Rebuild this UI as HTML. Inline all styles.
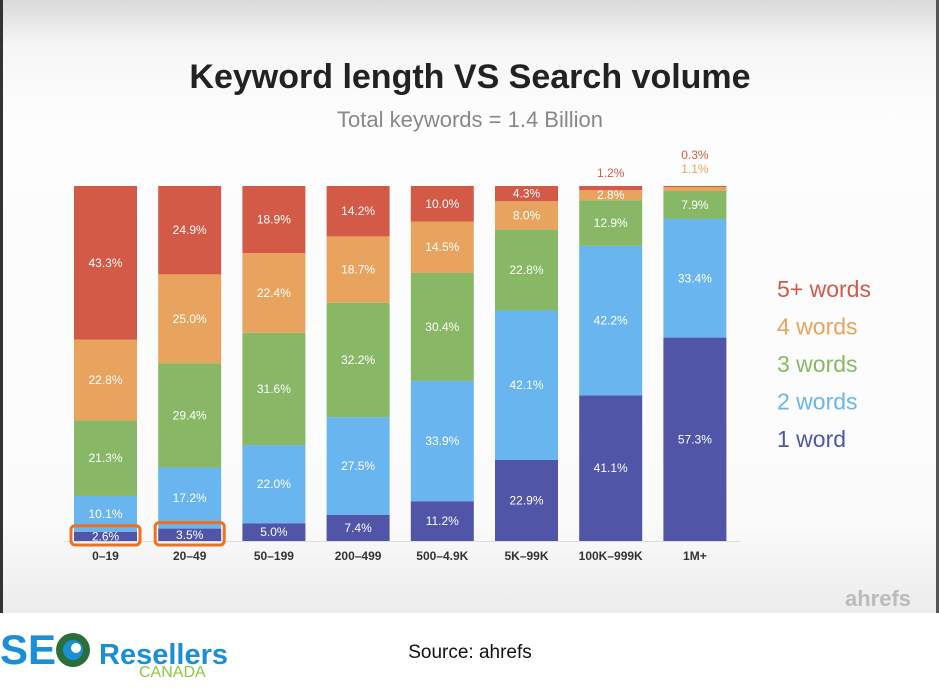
<!DOCTYPE html>
<html><head><meta charset="utf-8"><style>
body{margin:0;width:939px;height:700px;background:#fff;overflow:hidden;font-family:"Liberation Sans",sans-serif}
#panel{position:absolute;left:0;top:0;width:939px;height:613px;background:linear-gradient(#d9d9d9 0px,#f6f6f6 45px,#fdfdfd 120px,#fbfbfb 520px,#ececec 613px);border-left:3px solid #333;border-right:3px solid #555;box-sizing:border-box}
</style></head><body>
<div id="panel"></div>
<svg id="chart" width="939" height="700" style="position:absolute;left:0;top:0">
<text x="470" y="88" text-anchor="middle" font-size="34" font-weight="bold" fill="#222">Keyword length VS Search volume</text>
<text x="470" y="127" text-anchor="middle" font-size="22" fill="#888">Total keywords = 1.4 Billion</text>
<text x="878" y="606" text-anchor="middle" font-size="22" font-weight="bold" fill="#bbb">ahrefs</text>
<text x="470" y="658" text-anchor="middle" font-size="19" fill="#111">Source: ahrefs</text>
<g>
<text x="0" y="664" font-size="42" font-weight="bold" fill="#1a8fd6">SE</text>
<circle cx="73" cy="650" r="17" fill="#2a6e3a"/><circle cx="73" cy="650" r="10" fill="#1a8fd6"/><circle cx="76" cy="648" r="5" fill="#fff"/>
<text x="99" y="664" font-size="29" font-weight="bold" fill="#1a8fd6">Resellers</text>
<text x="139" y="677" font-size="16" fill="#8cc63f">CANADA</text>
</g>
<g id="bars"></g>
</svg>
<script>
const categories=["0–19","20–49","50–199","200–499","500–4.9K","5K–99K","100K–999K","1M+"];
const oneWord=[2.6,3.5,5.0,7.4,11.2,22.9,41.1,57.3];
const twoWords=[10.1,17.2,22.0,27.5,33.9,42.1,42.2,33.4];
const threeWords=[21.3,29.4,31.6,32.2,30.4,22.8,12.9,7.9];
const fourWords=[22.8,25.0,22.4,18.7,14.5,8.0,2.8,1.1];
const fivePlus=[43.3,24.9,18.9,14.2,10.0,4.3,1.2,0.3];
const seriesNames=["1 word","2 words","3 words","4 words","5+ words"];
const series=[oneWord,twoWords,threeWords,fourWords,fivePlus];
const colors=["#5055a8","#69b5f0","#88b865","#e8a45e","#d35a47"];
const NS="http://www.w3.org/2000/svg";
const g=document.getElementById('bars');
const top0=186,bottom0=541,x0=74,step=84.2,bw=63;
function xs(i){return x0+i*step;}
function ys(v,total){return v/total*(bottom0-top0);}
function mk(t,a){const e=document.createElementNS(NS,t);for(const k in a)e.setAttribute(k,a[k]);return e;}
const base=mk('line',{x1:64,x2:740,y1:bottom0+0.5,y2:bottom0+0.5,stroke:'#ddd','stroke-width':1});


g.appendChild(base);
categories.forEach((c,i)=>{
  const total=series.reduce((s,a)=>s+a[i],0);
  let y=bottom0;
  series.forEach((arr,k)=>{
    const h=ys(arr[i],total);y-=h;
    const r=mk('rect',{x:xs(i),y:y,width:bw,height:h,fill:colors[k]});
    
    
    g.appendChild(r);
    let ty=y+h/2+4,fill='#fff';
    if(h<10){ if(k===4){ty=top0-34;fill='#d35a47';} else if(k===3&&i===7){ty=top0-13;fill='#e8a45e';} }
    if(i===6&&k===4){ty=top0-9;}
    if(i===7&&k===4){ty=top0-27;}
    const t=mk('text',{x:xs(i)+bw/2,y:ty,'text-anchor':'middle','font-size':12,fill:fill});
    t.textContent=arr[i].toFixed(1)+'%';
    
    
    g.appendChild(t);
  });
  const lt=mk('text',{x:xs(i)+bw/2,y:560,'text-anchor':'middle','font-size':12,'font-weight':'600',fill:'#333'});
  lt.textContent=c;
  
  
  g.appendChild(lt);
});
[0,1].forEach(i=>{
  const h=ys(oneWord[i],series.reduce((s,a)=>s+a[i],0));
  const hl=mk('rect',{x:xs(i)-3,y:bottom0-h-6,width:bw+6,height:h+10,rx:4,fill:'none',stroke:'#f07020','stroke-width':3});
  
  
  g.appendChild(hl);
});
seriesNames.slice().reverse().forEach((n,j)=>{
  const t=mk('text',{x:777,y:297+j*37.5,'font-size':23,fill:colors[4-j]});
  t.textContent=n;
  
  
  g.appendChild(t);
});
</script>
</body></html>
